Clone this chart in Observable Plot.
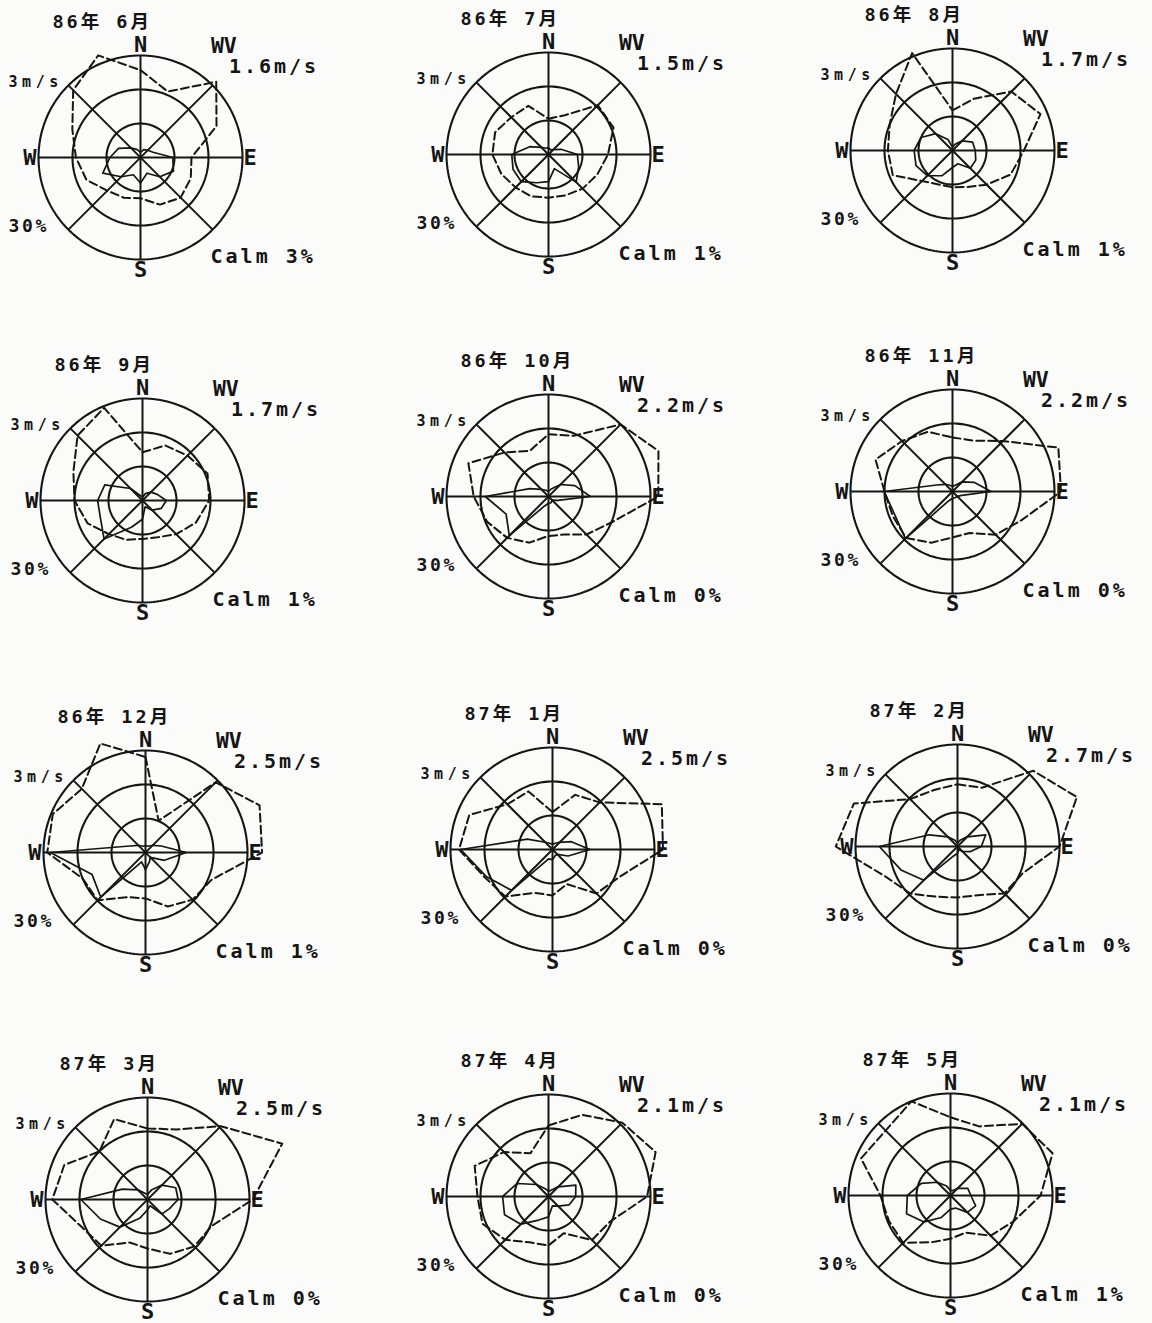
<!DOCTYPE html>
<html>
<head>
<meta charset="utf-8">
<script src="https://cdn.jsdelivr.net/npm/d3@7"></script>
<script src="https://cdn.jsdelivr.net/npm/@observablehq/plot@0.6"></script>
<style>
  html, body { margin: 0; padding: 0; background: #fbfbfa; overflow: hidden; }
  #page { position: relative; width: 1152px; height: 1323px; overflow: hidden; }
  .rose { position: absolute; }
  .rose svg text { font-family: "DejaVu Sans Mono", "Noto Sans CJK JP", monospace; font-weight: bold; font-feature-settings: "zero" 1; }
  /* plotter-style wide lettering */
  [font-size="18.5"] { letter-spacing: 3px; }
  [font-size="20"] { letter-spacing: 3px; }
  [font-size="15"] { letter-spacing: 4.5px; }
  [font-size="18"] { letter-spacing: 2.6px; }
  [font-size="21.5"] { letter-spacing: 0px; font-weight: normal; }
</style>
</head>
<body>
<div id="page"></div>
<script>
// 16 compass points, clockwise from north
const directions = ["N","NNE","NE","ENE","E","ESE","SE","SSE","S","SSW","SW","WSW","W","WNW","NW","NNW"];

const titles = ["86年 6月","86年 7月","86年 8月","86年 9月","86年 10月","86年 11月",
                "86年 12月","87年 1月","87年 2月","87年 3月","87年 4月","87年 5月"];

// monthly mean wind velocity (m/s)
const meanSpeed = [1.6, 1.5, 1.7, 1.7, 2.2, 2.2, 2.5, 2.5, 2.7, 2.5, 2.1, 2.1];

// calm frequency (%)
const calmPct = [3, 1, 1, 1, 0, 0, 1, 0, 0, 0, 0, 1];

// frequency of each direction (%), solid line; outer ring = 30%
const freq = [
  [1.5, 2.5, 3, 4, 9.5, 10.5, 8, 5, 7.5, 5.5, 8, 12, 9, 7, 4, 2.5],
  [2, 1.5, 2, 4, 8.5, 9.6, 11.5, 4.5, 8, 9, 11.3, 11.3, 10.8, 6, 3, 2],
  [1, 2, 4, 6.4, 6.7, 7.4, 7.4, 4.2, 5, 8, 10.5, 11.6, 11.3, 10, 7, 3.5],
  [1, 2.2, 3.5, 4.7, 7, 6, 4, 2, 5.5, 8.5, 16, 13.4, 13.2, 12, 5, 1.5],
  [1.5, 2.5, 5, 8.4, 12.3, 3, 1.5, 2, 2, 3, 16.3, 13.5, 18.6, 6, 3, 2],
  [1.5, 2, 4, 7, 11.3, 3, 2, 2, 2, 3, 19.6, 18.3, 20.1, 5, 3, 2],
  [2, 2, 3, 5, 12, 6, 2, 3, 5, 3, 18.6, 17, 28, 5, 3, 2],
  [1.5, 2, 3, 6, 11, 5, 2, 2, 3, 3, 17, 21, 27, 8, 3, 2],
  [1, 2, 4, 9, 7, 4, 2, 1, 2, 3, 14, 18, 23, 9, 4, 2],
  [1.5, 3, 6, 9, 9, 7, 6, 2, 3, 6, 11.5, 15, 19.6, 8, 4, 2],
  [1.5, 2, 4, 8.7, 8, 6.5, 4, 3, 6, 7.5, 11.5, 14, 13.5, 10, 5, 2.5],
  [1.5, 1.5, 3, 5.5, 6, 8, 7, 4, 4, 7, 11, 14, 12.7, 9.3, 5.5, 3]
];

// mean wind velocity of each direction (m/s), dashed line; outer ring = 3 m/s
const speed = [
  [2.57, 2.1, 3.15, 2.42, 1.5, 1.6, 1.67, 1.5, 1.2, 1.28, 1.38, 1.72, 1.9, 2.17, 2.8, 3.25],
  [1.05, 1.25, 2.05, 2.07, 1.75, 1.55, 1.42, 1.3, 1.27, 1.33, 1.37, 1.5, 1.65, 1.7, 1.55, 1.55],
  [1.18, 1.65, 2.45, 2.8, 2.1, 1.85, 1.42, 1.16, 1.08, 1.08, 1.27, 1.9, 1.9, 2.0, 2.35, 3.1],
  [1.42, 1.75, 1.87, 2.07, 1.96, 1.7, 1.4, 1.17, 1.13, 1.25, 1.4, 1.75, 2.0, 2.2, 2.7, 2.95],
  [1.83, 1.93, 3.0, 3.5, 3.23, 2.0, 1.58, 1.21, 1.16, 1.47, 1.72, 1.95, 2.2, 2.55, 1.83, 1.45],
  [1.59, 1.62, 2.1, 3.37, 3.19, 2.2, 1.8, 1.32, 1.35, 1.63, 1.93, 1.9, 2.0, 2.45, 2.1, 1.9],
  [2.81, 1.01, 2.92, 3.63, 3.43, 2.1, 1.96, 1.72, 1.35, 1.42, 1.99, 2.0, 2.89, 2.95, 2.65, 3.47],
  [1.1, 1.74, 1.96, 3.48, 3.25, 2.12, 1.83, 1.1, 1.35, 1.38, 1.96, 2.15, 2.75, 2.65, 1.88, 1.85],
  [1.83, 1.87, 3.15, 3.8, 3.0, 2.07, 1.95, 1.55, 1.5, 1.6, 1.96, 2.3, 3.58, 3.3, 1.97, 1.8],
  [2.09, 2.23, 3.05, 4.29, 3.1, 2.04, 1.95, 1.73, 1.44, 1.37, 1.92, 2.1, 2.8, 2.65, 2.0, 2.56],
  [2.09, 2.6, 3.07, 3.41, 2.9, 1.95, 1.81, 1.17, 1.44, 1.46, 1.8, 2.1, 2.09, 2.35, 1.85, 1.38],
  [2.3, 2.2, 2.98, 3.25, 2.65, 2.0, 1.67, 1.18, 1.27, 1.49, 1.97, 1.96, 2.06, 2.85, 2.7, 3.0]
];

// ring values: 10/20/30 % and 1/2/3 m/s share the same radius
const ringSteps = [1, 2, 3];

// ---- layout ----
const UNIT = 34;            // pixels per ring step
const W = 384, H = 345;     // size of each rose's svg
const CX = 190, CY = 172;   // rose centre inside its svg
const centres = [[140,157],[548,154],[952,150],[142,500],[548,496],[952,491],
                 [145,852],[552,849],[957,846],[147,1199],[548,1196],[950,1195]];
const ink = "#151515";

const toRad = deg => deg * Math.PI / 180;
const px = (r, deg) => r * Math.sin(toRad(deg));
const py = (r, deg) => r * Math.cos(toRad(deg));

function rose(i) {
  const freqRows = freq[i].map((p, k) => ({dir: directions[k], deg: k * 22.5, r: p / 10}));
  const speedRows = speed[i].map((s, k) => ({dir: directions[k], deg: k * 22.5, r: s}));
  const rings = ringSteps.flatMap(r => d3.range(0, 361, 2).map(deg => ({r, deg})));
  const spokes = d3.range(0, 180, 45);
  const outer = ringSteps[ringSteps.length - 1];

  const label = (text, x, y, fontSize, textAnchor, lineAnchor = "bottom") =>
    Plot.text([text], {x, y, text: d => d, fontSize, textAnchor, lineAnchor, fill: ink});

  return Plot.plot({
    width: W, height: H, margin: 0,
    x: {domain: [-CX / UNIT, (W - CX) / UNIT], axis: null},
    y: {domain: [-(H - CY) / UNIT, CY / UNIT], axis: null},
    style: {background: "transparent", overflow: "visible"},
    marks: [
      Plot.line(rings, {x: d => px(d.r, d.deg), y: d => py(d.r, d.deg), z: "r", stroke: ink, strokeWidth: 2.1}),
      Plot.link(spokes, {
        x1: d => px(outer, d), y1: d => py(outer, d),
        x2: d => px(outer, d + 180), y2: d => py(outer, d + 180),
        stroke: ink, strokeWidth: 2
      }),
      Plot.line(freqRows, {x: d => px(d.r, d.deg), y: d => py(d.r, d.deg), curve: "linear-closed",
        stroke: ink, strokeWidth: 1.7}),
      Plot.line(speedRows, {x: d => px(d.r, d.deg), y: d => py(d.r, d.deg), curve: "linear-closed",
        stroke: ink, strokeWidth: 2, strokeDasharray: "8,4"}),
      label(titles[i], -2.59, 3.82, 18.5, "start"),
      label("N", 0, 3.09, 22, "middle"),
      label("S", 0, -3.5, 22, "middle"),
      label("E", 3.03, 0, 22, "start", "middle"),
      label("W", -3.06, 0, 22, "end", "middle"),
      label("WV", 2.07, 3.06, 21.5, "start"),
      label(`${meanSpeed[i].toFixed(1)}m/s`, 2.6, 2.5, 20, "start"),
      label(`${outer}m/s`, -3.88, 2.06, 15, "start"),
      label(`${outer * 10}%`, -3.88, -2.2, 18, "start"),
      label(`Calm ${calmPct[i]}%`, 2.06, -3.09, 20, "start")
    ]
  });
}

const page = document.getElementById("page");
titles.forEach((t, i) => {
  const div = document.createElement("div");
  div.className = "rose";
  div.style.left = (centres[i][0] - CX) + "px";
  div.style.top = (centres[i][1] - CY) + "px";
  div.appendChild(rose(i));
  page.appendChild(div);
});
</script>
</body>
</html>
